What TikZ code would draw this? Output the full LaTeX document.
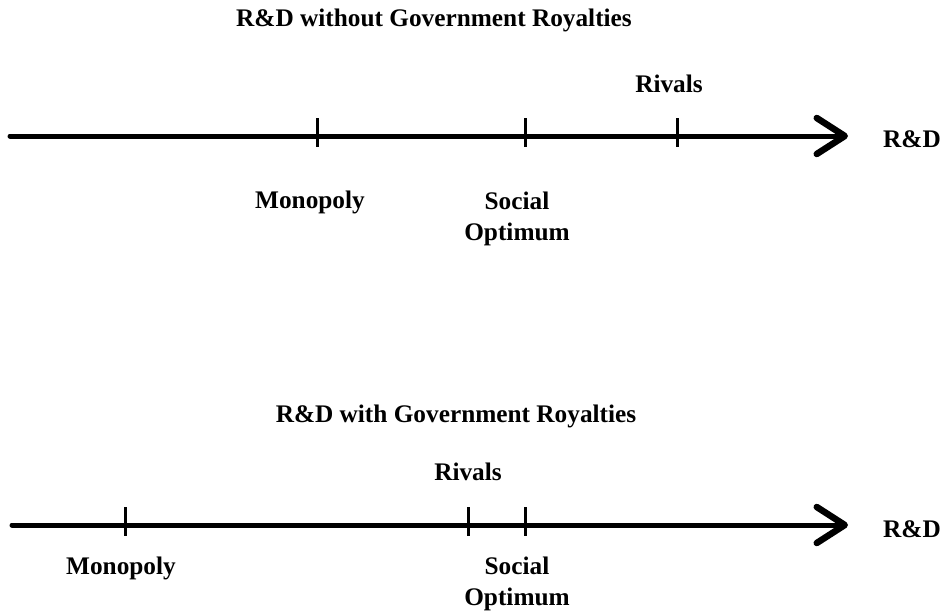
\documentclass[tikz,border=0pt]{standalone}
\usepackage{fontspec}
\setmainfont{Liberation Serif}
\usepackage{tikz}
\usetikzlibrary{arrows.meta}

\begin{document}
\begin{tikzpicture}[x=1pt, y=-1pt, line cap=round,
    axis/.style={line width=5pt, -{Straight Barb[length=28pt, width=36pt, line width=6.5pt, line cap=round, line join=round]}},
    tickmark/.style={line width=3pt, line cap=butt},
    lbl/.style={font=\fontsize{25.3}{31}\selectfont\bfseries, inner sep=0pt, anchor=base, align=center}]
    \useasboundingbox (0, 0) rectangle (943, 611);

    % upper axis: without royalties
    \node[lbl] (titleA) at (434, 26) {R\&D without Government Royalties};
    \coordinate (startA) at (10, 136);
    \coordinate (endA)   at (848, 136);
    \draw[axis] (startA) -- (endA);
    \node[lbl, anchor=base west] (rdA) at (883, 147) {R\&D};

    \coordinate (monoA)   at (317, 136);
    \coordinate (socialA) at (525, 136);
    \coordinate (rivalA)  at (677, 136);
    \foreach \t in {monoA, socialA, rivalA}
        \draw[tickmark] ([yshift=18pt]\t) -- ([yshift=-11pt]\t);

    \node[lbl] (monoAlbl)   at (310, 208) {Monopoly};
    \node[lbl] (socialAlbl) at (517, 240) {Social\\Optimum};
    \node[lbl] (rivalAlbl)  at (669, 92)  {Rivals};

    % lower axis: with royalties
    \node[lbl] (titleB) at (456, 422) {R\&D with Government Royalties};
    \coordinate (startB) at (12, 525);
    \coordinate (endB)   at (848, 525);
    \draw[axis] (startB) -- (endB);
    \node[lbl, anchor=base west] (rdB) at (883, 537) {R\&D};

    \coordinate (monoB)   at (125, 525);
    \coordinate (rivalB)  at (468, 525);
    \coordinate (socialB) at (525, 525);
    \foreach \t in {monoB, rivalB, socialB}
        \draw[tickmark] ([yshift=18pt]\t) -- ([yshift=-11pt]\t);

    \node[lbl] (monoBlbl)   at (121, 574) {Monopoly};
    \node[lbl] (socialBlbl) at (517, 605) {Social\\Optimum};
    \node[lbl] (rivalBlbl)  at (468, 480) {Rivals};
\end{tikzpicture}
\end{document}
